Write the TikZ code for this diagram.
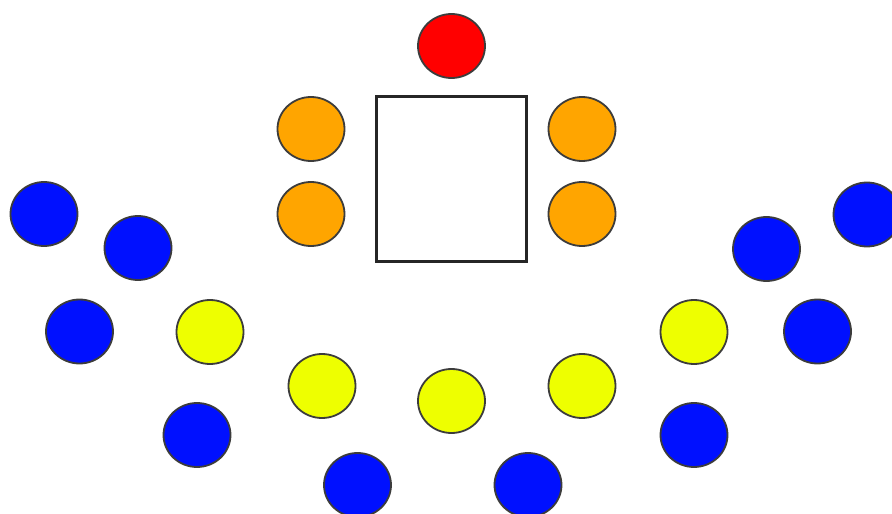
\documentclass[tikz,border=0pt]{standalone}
\usetikzlibrary{shapes.geometric}
\definecolor{seatred}{RGB}{255,0,0}
\definecolor{seatorange}{RGB}{255,165,0}
\definecolor{seatblue}{RGB}{0,16,255}
\definecolor{seatyellow}{RGB}{238,255,0}
\definecolor{rim}{RGB}{60,60,60}
\tikzset{
  seat/.style={ellipse, draw=rim, line width=1.8pt, minimum width=67pt, minimum height=64pt, inner sep=0pt},
  red seat/.style={seat, fill=seatred},
  orange seat/.style={seat, fill=seatorange},
  blue seat/.style={seat, fill=seatblue},
  yellow seat/.style={seat, fill=seatyellow},
  tablebox/.style={draw=black!85, line width=2.4pt, rectangle, minimum width=150pt, minimum height=165pt, inner sep=0pt}
}
\begin{document}
\begin{tikzpicture}[x=1pt,y=-1pt]
\useasboundingbox (0,0) rectangle (892,514);
\node[tablebox] (table) at (451.5,179) {};
\node[red seat] (r1) at (451.5,46) {};
\node[orange seat] (o1) at (311,129) {};
\node[orange seat] (o2) at (311,214) {};
\node[orange seat] (o3) at (582,129) {};
\node[orange seat] (o4) at (582,214) {};
\node[yellow seat] (y1) at (210,332) {};
\node[yellow seat] (y2) at (322,386) {};
\node[yellow seat] (y3) at (451.5,401) {};
\node[yellow seat] (y4) at (582,386) {};
\node[yellow seat] (y5) at (694,332) {};
\node[blue seat] (b1) at (44,214) {};
\node[blue seat] (b2) at (138,248) {};
\node[blue seat] (b3) at (79.5,331.5) {};
\node[blue seat] (b4) at (197,435) {};
\node[blue seat] (b5) at (357.5,485) {};
\node[blue seat] (b6) at (528,485) {};
\node[blue seat] (b7) at (694,435) {};
\node[blue seat] (b8) at (817.5,331.5) {};
\node[blue seat] (b9) at (766.5,249) {};
\node[blue seat] (b10) at (867,214.5) {};
\end{tikzpicture}
\end{document}
